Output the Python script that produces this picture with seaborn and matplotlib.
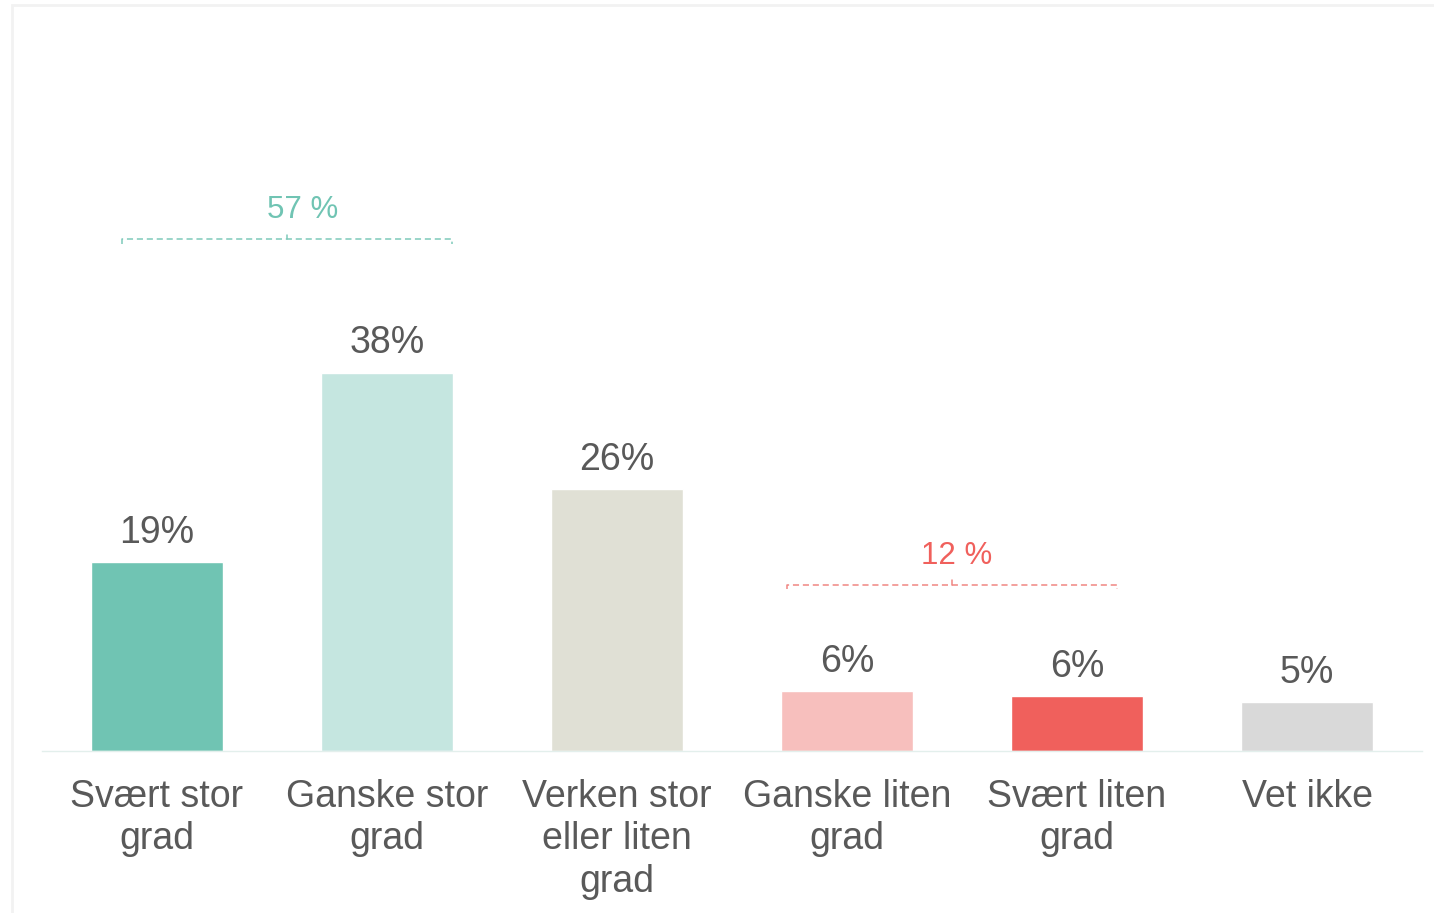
#%% import tools and libraries
import pandas as pd
import seaborn as sb
import matplotlib.pyplot as plt
from matplotlib.patches import Rectangle

#%% data
categories = ['Svært stor\ngrad', 'Ganske stor\ngrad', 'Verken stor\neller liten\ngrad',
              'Ganske liten\ngrad', 'Svært liten\ngrad', 'Vet ikke']
values = [19.0, 38.0, 26.3, 6.0, 5.5, 4.9]
value_labels = ['19%', '38%', '26%', '6%', '6%', '5%']
colors = ['#70C4B3', '#C5E6E0', '#E0E0D5', '#F7BFBD', '#F0605C', '#D9D9D9']

group_labels = ['57 %', '12 %']
group_colors = ['#70C4B3', '#F0605C']
group_line_colors = ['#7FCABA', '#F08683']

df = pd.DataFrame({'category': categories, 'value': values})

#%% plot
sb.set_style('white')
plt.rcParams['font.family'] = ['Liberation Sans', 'DejaVu Sans']
text_col = '#595959'

fig = plt.figure(figsize=(14.34, 9.13), dpi=100)
ax = fig.add_axes([42/1434, 1 - 751/913, 1380/1434, 746/913])

sb.barplot(data=df, x='category', y='value', hue='category', palette=colors,
           width=0.574, legend=False, ax=ax, saturation=1)

for cont, lab in zip(ax.containers, value_labels):
    ax.bar_label(cont, labels=[lab], padding=8, fontsize=27, color=text_col)

ax.set_xlim(-0.5, 5.5)
ax.set_ylim(0, 74.9)
ax.set_xlabel('')
ax.set_ylabel('')
ax.set_yticks([])
ax.tick_params(axis='x', length=0, pad=20, labelsize=27, labelcolor=text_col)
for lab in ax.get_xticklabels():
    lab.set_linespacing(1.24)
for s in ['left', 'right', 'top']:
    ax.spines[s].set_visible(False)
ax.spines['bottom'].set_color('#E3EFEC')
ax.spines['bottom'].set_linewidth(1)

# brackets over the grouped categories (layout positions)
brackets = [(-0.152, 1.283, 0.565, 51.4, 54.3, 0.635),
            (2.739, 4.174, 3.457, 16.7, 19.6, 3.478)]
for (x0, x1, xc, yb, yt, xt), lab, tc, lc in zip(brackets, group_labels, group_colors, group_line_colors):
    d = 0.45
    ax.plot([x0, x0, x1, x1], [yb - d, yb, yb, yb - d], color=lc, lw=1.1,
            linestyle=(0, (4, 2.5)), solid_capstyle='butt')
    ax.plot([xc, xc], [yb, yb + d], color=lc, lw=1.1)
    ax.text(xt, yt, lab, ha='center', va='center', fontsize=22.5, color=tc)

# faint frame around the figure
fig.patches.append(Rectangle((12/1434, -0.1), 1.2, 1 - 5/913 + 0.1, transform=fig.transFigure,
                             fill=False, edgecolor='#F2F2F2', linewidth=2))

plt.savefig('out.png', dpi=100)
